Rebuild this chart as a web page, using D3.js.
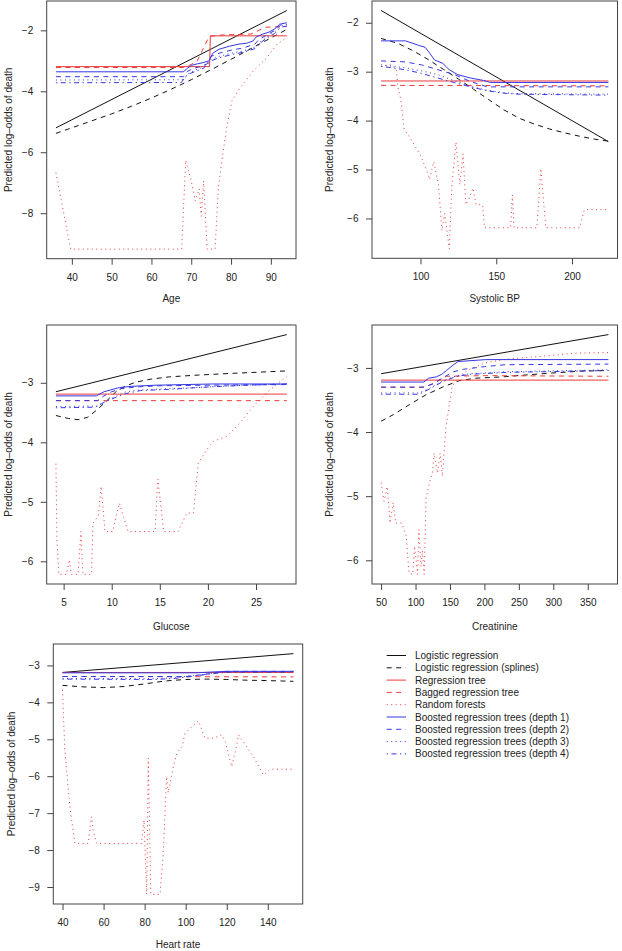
<!DOCTYPE html>
<html><head><meta charset="utf-8">
<script src="https://cdn.jsdelivr.net/npm/d3@7"></script>
<style>
body{margin:0;background:#fff}
svg{display:block}
text{font-family:"Liberation Sans",Arial,Helvetica,sans-serif;fill:#222}
</style>
</head><body>
<svg id="chart" width="622" height="951"></svg>
<script>
// ---------------- DATA ----------------
const modelNames = [
  "Logistic regression",
  "Logistic regression (splines)",
  "Regression tree",
  "Bagged regression tree",
  "Random forests",
  "Boosted regression trees (depth 1)",
  "Boosted regression trees (depth 2)",
  "Boosted regression trees (depth 3)",
  "Boosted regression trees (depth 4)"
];
const yAxisTitle = "Predicted log–odds of death";

// Age
const ageXTicks = [40, 50, 60, 70, 80, 90];
const ageYTicks = [-8, -6, -4, -2];
const age_lr  = [[36,-5.2],[94,-1.35]];
const age_lrs = [[36,-5.38],[45,-4.97],[50,-4.74],[55,-4.49],[60,-4.22],[65,-3.93],[70,-3.62],[75,-3.29],[80,-2.95],[85,-2.6],[90,-2.25],[94,-1.97]];
const age_rt  = [[36,-3.19],[74.6,-3.19],[74.8,-2.18],[94,-2.18]];
const age_bag = [[36,-3.22],[68,-3.22],[70,-3.12],[71.5,-3.0],[73,-2.6],[74.5,-2.2],[78,-2.15],[85,-2.12],[87,-2.0],[88.5,-1.9],[94,-1.87]];
const age_rf  = [[36,-6.67],[39.7,-9.18],[67.6,-9.18],[68.6,-6.26],[70,-6.94],[71,-7.6],[72,-7.2],[72.5,-8.1],[73.1,-6.94],[74,-9.18],[76,-9.18],[76.8,-7.16],[77.7,-6.28],[78.9,-5.19],[80.2,-4.32],[82.3,-3.88],[85.6,-3.33],[89,-2.9],[91.5,-2.46],[94,-2.24]];
const age_b1  = [[36,-3.36],[68,-3.36],[69,-3.25],[70,-3.15],[71.5,-3.1],[73,-3.06],[74.5,-3.0],[75.4,-2.75],[77,-2.62],[79.6,-2.52],[82,-2.45],[84,-2.42],[85.5,-2.35],[86.3,-2.22],[88,-2.12],[89.5,-2.06],[91,-1.95],[92.2,-1.8],[94,-1.75]];
const age_b2  = [[36,-3.52],[68,-3.52],[69,-3.35],[70.5,-3.25],[72,-3.2],[74,-3.1],[75,-2.85],[77,-2.75],[80,-2.65],[83,-2.58],[86,-2.45],[87,-2.3],[89,-2.15],[91,-2.0],[92.5,-1.82],[94,-1.8]];
const age_b3  = [[36,-3.63],[68,-3.62],[69.5,-3.4],[71,-3.3],[73,-3.22],[75,-2.95],[77,-2.85],[80,-2.75],[83,-2.68],[86,-2.55],[87.5,-2.35],[89,-2.2],[91,-2.05],[92.5,-1.85],[94,-1.82]];
const age_b4  = [[36,-3.72],[67.5,-3.71],[69,-3.45],[71,-3.35],[73,-3.25],[75,-3.0],[77,-2.9],[80,-2.8],[83,-2.72],[86,-2.6],[87.5,-2.4],[89,-2.25],[91,-2.1],[92.5,-1.9],[94,-1.86]];

// Systolic BP
const sbpXTicks = [100, 150, 200];
const sbpYTicks = [-6, -5, -4, -3, -2];
const sbp_lr  = [[74,-1.75],[224,-4.43]];
const sbp_lrs = [[74,-2.32],[85,-2.42],[95,-2.57],[105,-2.75],[115,-2.95],[125,-3.15],[135,-3.36],[145,-3.57],[155,-3.78],[165,-3.95],[175,-4.07],[185,-4.17],[195,-4.25],[205,-4.32],[215,-4.38],[224,-4.42]];
const sbp_rt  = [[74,-3.19],[224,-3.19]];
const sbp_bag = [[74,-3.28],[224,-3.29]];
const sbp_rf  = [[74,-2.9],[80,-2.85],[84,-2.95],[85,-3.3],[87,-3.57],[89.2,-4.17],[93.5,-4.37],[100,-4.71],[104.3,-5.04],[106,-5.2],[108.7,-4.84],[111.9,-5.31],[114.1,-6.25],[116,-5.9],[119,-6.62],[120.6,-5.38],[123.4,-4.44],[126,-5.31],[128.1,-4.68],[129.9,-5.72],[132,-5.6],[134.6,-5.38],[136.7,-5.72],[141,-5.72],[142.2,-6.19],[159.5,-6.19],[160.6,-5.52],[161.7,-6.19],[176.8,-6.19],[179.4,-4.98],[182.7,-6.19],[205,-6.19],[208.2,-5.82],[224,-5.82]];
const sbp_b1  = [[74,-2.37],[90,-2.37],[95,-2.42],[98.5,-2.46],[103,-2.5],[106,-2.62],[109.3,-2.76],[114.7,-2.83],[117,-2.9],[119,-2.96],[124.5,-3.06],[133,-3.13],[141.8,-3.18],[146,-3.22],[224,-3.22]];
const sbp_b2  = [[74,-2.78],[90,-2.8],[100.6,-2.86],[111.5,-2.96],[122.4,-3.06],[133,-3.2],[144,-3.31],[224,-3.31]];
const sbp_b3  = [[74,-2.86],[90,-2.92],[100,-2.98],[111.5,-3.06],[122,-3.18],[133,-3.3],[144,-3.38],[155,-3.43],[165,-3.45],[224,-3.46]];
const sbp_b4  = [[74,-2.89],[90,-2.96],[100,-3.03],[111.5,-3.13],[122,-3.22],[133,-3.31],[144,-3.39],[155,-3.44],[165,-3.46],[224,-3.48]];

// Glucose
const gluXTicks = [5, 10, 15, 20, 25];
const gluYTicks = [-6, -5, -4, -3];
const glu_lr  = [[4.2,-3.15],[28.2,-2.19]];
const glu_lrs = [[4.2,-3.55],[5.5,-3.6],[6.5,-3.62],[7.5,-3.58],[8.5,-3.45],[9.5,-3.3],[10.5,-3.14],[11.5,-3.05],[12.5,-2.99],[14,-2.94],[16,-2.9],[19,-2.87],[22.7,-2.84],[25.5,-2.82],[28.2,-2.8]];
const glu_rt  = [[4.2,-3.19],[28.2,-3.19]];
const glu_bag = [[4.2,-3.3],[28.2,-3.3]];
const glu_rf  = [[4.2,-4.36],[4.3,-5.64],[4.5,-6.22],[5.3,-6.22],[5.6,-5.97],[5.8,-6.22],[6.5,-6.22],[6.8,-5.5],[7.0,-6.22],[7.9,-6.22],[8.05,-5.36],[8.6,-5.24],[8.9,-4.74],[9.3,-5.5],[10.1,-5.5],[10.3,-5.36],[10.8,-5.02],[11.2,-5.24],[11.7,-5.5],[14.5,-5.5],[14.8,-4.62],[15.4,-5.5],[16.9,-5.5],[17.8,-5.19],[18.5,-5.19],[19.0,-4.35],[19.9,-4.12],[20.6,-3.98],[22,-3.9],[23.3,-3.68],[24.7,-3.4],[26.1,-3.17],[27.5,-2.98],[28.2,-2.9]];
const glu_b1  = [[4.2,-3.22],[8.4,-3.22],[9.2,-3.15],[10.8,-3.08],[12,-3.06],[14.6,-3.04],[20.5,-3.02],[28.2,-3.02]];
const glu_b2  = [[4.2,-3.3],[8.5,-3.3],[9.2,-3.22],[10,-3.15],[11,-3.1],[12.5,-3.07],[15,-3.05],[20,-3.04],[28.2,-3.03]];
const glu_b3  = [[4.2,-3.4],[8.5,-3.39],[9.5,-3.3],[10.5,-3.22],[11.5,-3.15],[13,-3.12],[16,-3.1],[20,-3.07],[24,-3.04],[28.2,-3.02]];
const glu_b4  = [[4.2,-3.42],[8.3,-3.41],[9.3,-3.32],[10.5,-3.24],[11.5,-3.18],[13,-3.13],[16,-3.11],[20,-3.07],[24,-3.04],[28.2,-3.02]];

// Creatinine
const crXTicks = [50, 100, 150, 200, 250, 300, 350];
const crYTicks = [-6, -5, -4, -3];
const cr_lr  = [[50,-3.09],[380,-2.48]];
const cr_lrs = [[50,-3.83],[67.6,-3.73],[91.4,-3.57],[115,-3.42],[139,-3.3],[163,-3.2],[187,-3.16],[226,-3.14],[260,-3.11],[297,-3.08],[340,-3.05],[380,-3.04]];
const cr_rt  = [[50,-3.19],[380,-3.19]];
const cr_bag = [[50,-3.3],[112,-3.3],[120,-3.27],[130,-3.22],[145,-3.13],[200,-3.12],[380,-3.13]];
const cr_rf  = [[50,-4.79],[54.3,-5.08],[59,-4.85],[62.9,-5.42],[67.6,-5.1],[71,-5.42],[80,-5.42],[86.7,-5.63],[90.5,-6.2],[96,-6.22],[98.6,-5.78],[103,-6.22],[104.8,-5.52],[108,-6.1],[110,-5.85],[112.6,-6.22],[115.2,-5.05],[120,-4.79],[124.6,-4.64],[127,-4.33],[131.8,-4.64],[135.7,-4.33],[139,-4.69],[143.8,-3.96],[148.6,-3.6],[153.3,-3.29],[162.9,-3.13],[177,-3.03],[201,-2.92],[234,-2.86],[282,-2.82],[329.6,-2.77],[380,-2.76]];
const cr_b1  = [[50,-3.22],[112,-3.22],[119,-3.16],[130,-3.14],[138,-3.1],[145,-3.04],[155,-2.95],[162,-2.9],[202,-2.87],[380,-2.87]];
const cr_b2  = [[50,-3.3],[112,-3.3],[125,-3.25],[140,-3.15],[155,-3.06],[170,-3.02],[200,-2.98],[230,-2.95],[380,-2.94]];
const cr_b3  = [[50,-3.39],[105,-3.39],[120,-3.32],[140,-3.2],[160,-3.12],[180,-3.09],[230,-3.06],[380,-3.03]];
const cr_b4  = [[50,-3.41],[105,-3.41],[120,-3.33],[140,-3.21],[160,-3.13],[180,-3.1],[230,-3.07],[380,-3.04]];

// Heart rate
const hrXTicks = [40, 60, 80, 100, 120, 140];
const hrYTicks = [-9, -8, -7, -6, -5, -4, -3];
const hr_lr  = [[40,-3.19],[152.5,-2.68]];
const hr_lrs = [[40,-3.54],[50,-3.58],[60,-3.6],[70,-3.57],[80,-3.5],[90,-3.42],[100,-3.38],[110,-3.37],[120,-3.38],[130,-3.4],[140,-3.41],[152.5,-3.43]];
const hr_rt  = [[40,-3.19],[152.5,-3.19]];
const hr_bag = [[40,-3.3],[152.5,-3.31]];
const hr_rf  = [[40,-3.66],[41.1,-5.29],[43.6,-6.83],[46,-7.82],[52.5,-7.82],[54.1,-7.1],[55,-7.5],[56.6,-7.82],[78.5,-7.82],[79.7,-7.19],[81,-9.2],[81.8,-5.51],[83,-9.2],[87.5,-9.2],[89.1,-8.05],[90.7,-6.01],[91.5,-6.45],[94,-5.74],[95.7,-5.38],[98.2,-5.2],[99.7,-4.84],[102.9,-4.66],[106.2,-4.5],[109.4,-4.97],[113.5,-4.97],[117.6,-4.88],[119.3,-5.08],[122.4,-5.74],[124.9,-5.15],[125.7,-4.88],[129.7,-5.2],[133,-5.47],[137.9,-5.97],[141.2,-5.81],[152.5,-5.81]];
const hr_b1  = [[40,-3.2],[105,-3.2],[112,-3.18],[120,-3.16],[152.5,-3.16]];
const hr_b2  = [[40,-3.3],[100,-3.3],[108,-3.25],[115,-3.2],[120,-3.16],[152.5,-3.16]];
const hr_b3  = [[40,-3.35],[85,-3.36],[95,-3.33],[105,-3.27],[115,-3.2],[122,-3.17],[152.5,-3.17]];
const hr_b4  = [[40,-3.37],[85,-3.38],[95,-3.35],[105,-3.28],[115,-3.21],[122,-3.18],[152.5,-3.18]];

// ---------------- STYLE / LAYOUT ----------------
const BLACK = "#111", RED = "#ec3a3a", BLUE = "#3636e4";
const styles = [
  {c: BLACK, d: null},
  {c: BLACK, d: "5,4.5"},
  {c: RED,   d: null},
  {c: RED,   d: "5,4.5"},
  {c: RED,   d: "1,3.5"},
  {c: BLUE,  d: null},
  {c: BLUE,  d: "5,4.5"},
  {c: BLUE,  d: "1,3.5"},
  {c: BLUE,  d: "1.3,3.5,5,3.5"}
];

const panels = [
  {title: "Age", xTicks: ageXTicks, yTicks: ageYTicks,
   series: [age_lr, age_lrs, age_rt, age_bag, age_rf, age_b1, age_b2, age_b3, age_b4],
   box: {l: 46.7, r: 296, t: 1, b: 258.7}, xtY: 298.3, ytX: 8.3},
  {title: "Systolic BP", xTicks: sbpXTicks, yTicks: sbpYTicks,
   series: [sbp_lr, sbp_lrs, sbp_rt, sbp_bag, sbp_rf, sbp_b1, sbp_b2, sbp_b3, sbp_b4],
   box: {l: 372, r: 617.5, t: 1, b: 258.3}, xtY: 298.3, ytX: 329.3},
  {title: "Glucose", xTicks: gluXTicks, yTicks: gluYTicks,
   series: [glu_lr, glu_lrs, glu_rt, glu_bag, glu_rf, glu_b1, glu_b2, glu_b3, glu_b4],
   box: {l: 46.7, r: 296, t: 325, b: 584}, xtY: 626, ytX: 8.3},
  {title: "Creatinine", xTicks: crXTicks, yTicks: crYTicks,
   series: [cr_lr, cr_lrs, cr_rt, cr_bag, cr_rf, cr_b1, cr_b2, cr_b3, cr_b4],
   box: {l: 372, r: 617.5, t: 325, b: 584}, xtY: 626, ytX: 329.3},
  {title: "Heart rate", xTicks: hrXTicks, yTicks: hrYTicks,
   series: [hr_lr, hr_lrs, hr_rt, hr_bag, hr_rf, hr_b1, hr_b2, hr_b3, hr_b4],
   box: {l: 53.3, r: 302.7, t: 644, b: 904}, xtY: 944, ytX: 11.7}
];

const svg = d3.select("#chart");
const FS = 10;
const fmt = d3.format("d");

function padded(ext) {
  const p = (ext[1] - ext[0]) * 0.04;
  return [ext[0] - p, ext[1] + p];
}

panels.forEach(p => {
  const all = p.series.flat();
  const x = d3.scaleLinear().domain(padded(d3.extent(all, d => d[0]))).range([p.box.l, p.box.r]);
  const y = d3.scaleLinear().domain(padded(d3.extent(all, d => d[1]))).range([p.box.b, p.box.t]);
  const g = svg.append("g");

  const clipId = "clip" + p.title.replace(/\s/g, "");
  g.append("clipPath").attr("id", clipId).append("rect")
    .attr("x", p.box.l).attr("y", p.box.t)
    .attr("width", p.box.r - p.box.l).attr("height", p.box.b - p.box.t);

  const line = d3.line().x(d => x(d[0])).y(d => y(d[1]));
  const lg = g.append("g").attr("clip-path", `url(#${clipId})`);
  p.series.forEach((s, i) => {
    lg.append("path").datum(s)
      .attr("d", line)
      .attr("fill", "none")
      .attr("stroke", styles[i].c)
      .attr("stroke-width", 1)
      .attr("stroke-dasharray", styles[i].d);
  });

  // box
  g.append("rect")
    .attr("x", p.box.l).attr("y", p.box.t)
    .attr("width", p.box.r - p.box.l).attr("height", p.box.b - p.box.t)
    .attr("fill", "none").attr("stroke", "#444").attr("stroke-width", 1);

  // x axis
  const xa = g.append("g").attr("transform", `translate(0,${p.box.b})`)
    .call(d3.axisBottom(x).tickValues(p.xTicks).tickFormat(fmt).tickSize(6).tickPadding(9));
  // y axis
  const ya = g.append("g").attr("transform", `translate(${p.box.l},0)`)
    .call(d3.axisLeft(y).tickValues(p.yTicks).tickFormat(fmt).tickSize(6).tickPadding(7.5));
  [xa, ya].forEach(a => {
    a.select(".domain").remove();
    a.selectAll("line").attr("stroke", "#444");
    a.selectAll("text").attr("font-size", FS).style("fill", "#222");
    a.attr("font-family", null);
  });

  // titles
  g.append("text")
    .attr("x", (p.box.l + p.box.r) / 2).attr("y", p.xtY)
    .attr("dy", "0.35em").attr("text-anchor", "middle").attr("font-size", FS)
    .text(p.title);
  g.append("text")
    .attr("transform", `translate(${p.ytX},${(p.box.t + p.box.b) / 2}) rotate(-90)`)
    .attr("dy", "0.35em").attr("text-anchor", "middle").attr("font-size", FS)
    .text(yAxisTitle);
});

// legend
const leg = svg.append("g");
modelNames.forEach((name, i) => {
  const yy = 655.5 + i * 12.3;
  leg.append("line")
    .attr("x1", 386.7).attr("x2", 406).attr("y1", yy).attr("y2", yy)
    .attr("stroke", styles[i].c).attr("stroke-width", 1)
    .attr("stroke-dasharray", styles[i].d);
  leg.append("text")
    .attr("x", 415).attr("y", yy).attr("dy", "0.35em")
    .attr("font-size", FS).text(name);
});
</script>
</body></html>
